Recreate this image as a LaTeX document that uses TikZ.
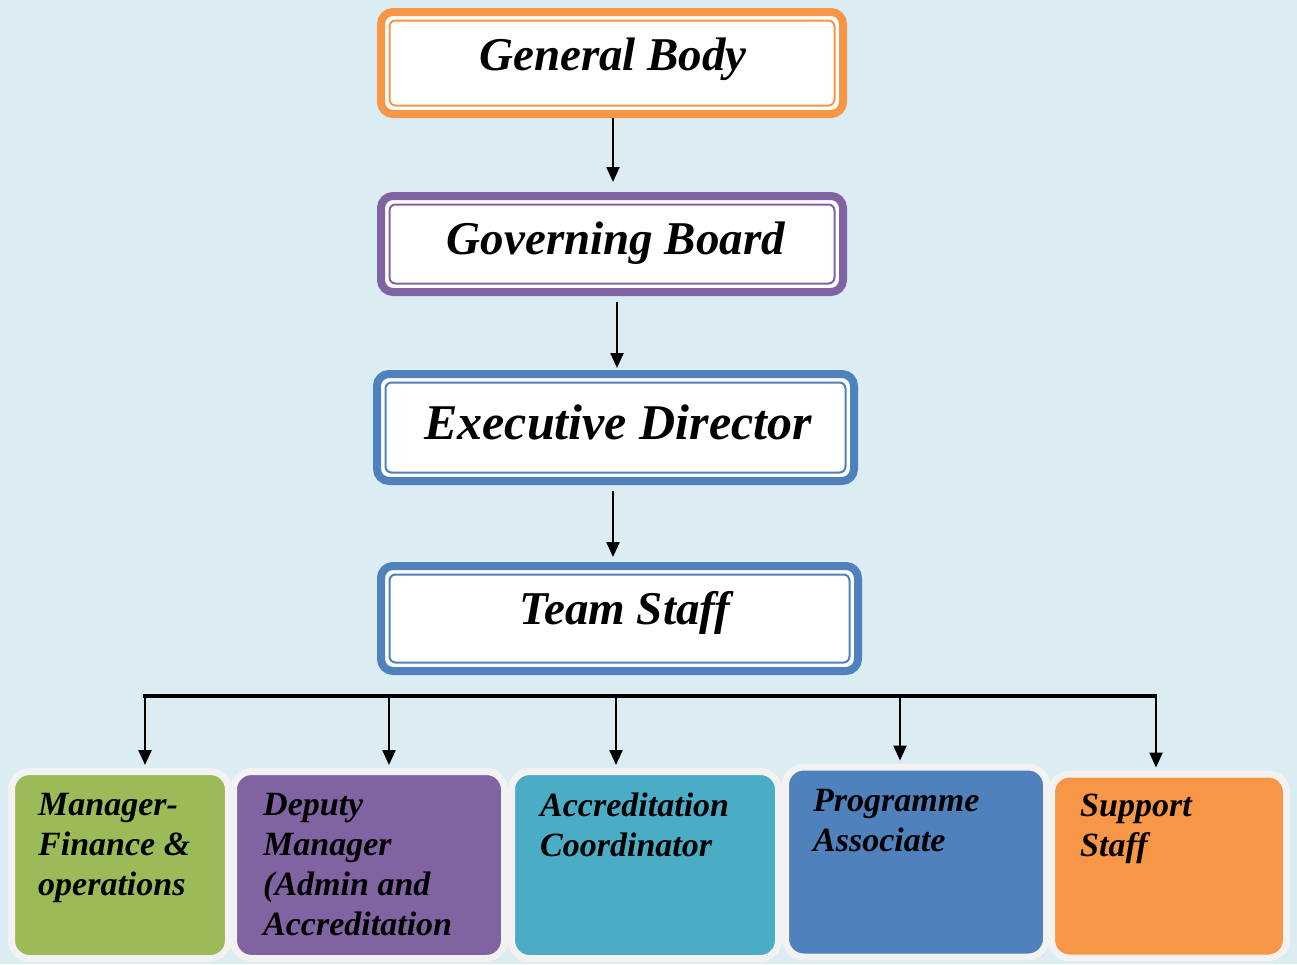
\documentclass[tikz,border=0pt]{standalone}
\usepackage{fontspec}
\setmainfont{Liberation Serif}
\usetikzlibrary{arrows.meta,shadows}
\definecolor{bgc}{HTML}{DBEDF3}
\definecolor{corange}{HTML}{F79646}
\definecolor{cpurple}{HTML}{8064A2}
\definecolor{cblue}{HTML}{4F81BD}
\definecolor{cgreen}{HTML}{9BBB59}
\definecolor{cteal}{HTML}{4BACC6}
\definecolor{cframe}{HTML}{F2F2F2}
\tikzset{
  topbox/.style={draw=#1, line width=8pt, fill=white, rounded corners=12pt, inner sep=0pt},
  innerbox/.style={draw=#1, line width=2pt, rounded corners=6pt, inner sep=0pt},
  toptext/.style={font=\fontsize{#1}{50}\selectfont\bfseries\itshape},
  arr/.style={line width=2.4pt, -{Triangle[length=15pt,width=13pt]}},
  botbox/.style={fill=#1, draw=cframe, line width=7pt, rounded corners=18pt,
    drop shadow={shadow xshift=2pt, shadow yshift=-3pt, fill=black!35, opacity=0.6}},
  bottext/.style={anchor=north west, align=left, inner sep=0pt,
    font=\fontsize{34}{40}\selectfont\bfseries\itshape},
}
\begin{document}
\begin{tikzpicture}[x=1pt,y=-1pt]
\fill[bgc] (0,0) rectangle (1297,964);
\useasboundingbox (0,0) rectangle (1297,964);

% top chain
\node[topbox=corange, minimum width=462pt, minimum height=102pt] (gb) at (612,63) {};
\node[topbox=cpurple, minimum width=462pt, minimum height=96pt] (gov) at (612,244) {};
\node[topbox=cblue, minimum width=477pt, minimum height=107pt] (ed) at (615.5,427.5) {};
\node[topbox=cblue, minimum width=477pt, minimum height=105pt] (ts) at (619.5,618.5) {};

\node[innerbox=corange, minimum width=445pt, minimum height=85pt] (gbi) at (gb.center) {};
\node[innerbox=cpurple, minimum width=445pt, minimum height=79pt] (govi) at (gov.center) {};
\node[innerbox=cblue, minimum width=460pt, minimum height=90pt] (edi) at (ed.center) {};
\node[innerbox=cblue, minimum width=460pt, minimum height=88pt] (tsi) at (ts.center) {};

\node[toptext=47] (gbt) at (613,59) {General Body};
\node[toptext=47] (govt) at (616,243) {Governing Board};
\node[toptext=50] (edt) at (618,422) {Executive Director};
\node[toptext=47] (tst) at (625,613) {Team Staff};

\draw[arr, shorten >=10pt] (gb.south -| 613,0) -- (gov.north -| 613,0);
\draw[arr, shorten >=2pt, shorten <=6pt] (gov.south -| 617,0) -- (ed.north -| 617,0);
\draw[arr, shorten >=5pt, shorten <=6pt] (ed.south -| 613,0) -- (ts.north -| 613,0);

% bottom row
\node[botbox=cgreen, minimum width=217pt, minimum height=187pt] (m1) at (120,865) {};
\node[botbox=cpurple, minimum width=271pt, minimum height=187pt] (m2) at (369,865) {};
\node[botbox=cteal, minimum width=267pt, minimum height=187pt] (m3) at (645,865) {};
\node[botbox=cblue, minimum width=261pt, minimum height=190pt] (m4) at (916,862) {};
\node[botbox=corange, minimum width=235pt, minimum height=184pt] (m5) at (1169,866) {};

\node[bottext] (t1) at (38,793) {Manager-\\Finance \&\\operations};
\node[bottext] (t2) at (263,793) {Deputy\\Manager\\(Admin and\\Accreditation};
\node[bottext] (t3) at (540,793) {Accreditation\\Coordinator};
\node[bottext] (t4) at (813,789) {Programme\\Associate};
\node[bottext] (t5) at (1080,794) {Support\\Staff};

% distribution bar
\coordinate (barL) at (143,696);
\coordinate (barR) at (1157,696);
\draw[line width=3.2pt] (barL) -- (barR);
\foreach \x/\m in {145/m1,389/m2,616/m3,900/m4,1156/m5}{
  \coordinate (d\m) at (\x,696);
  \draw[arr, shorten >=3pt] (d\m) -- (\m.north -| d\m);
}
\end{tikzpicture}
\end{document}
